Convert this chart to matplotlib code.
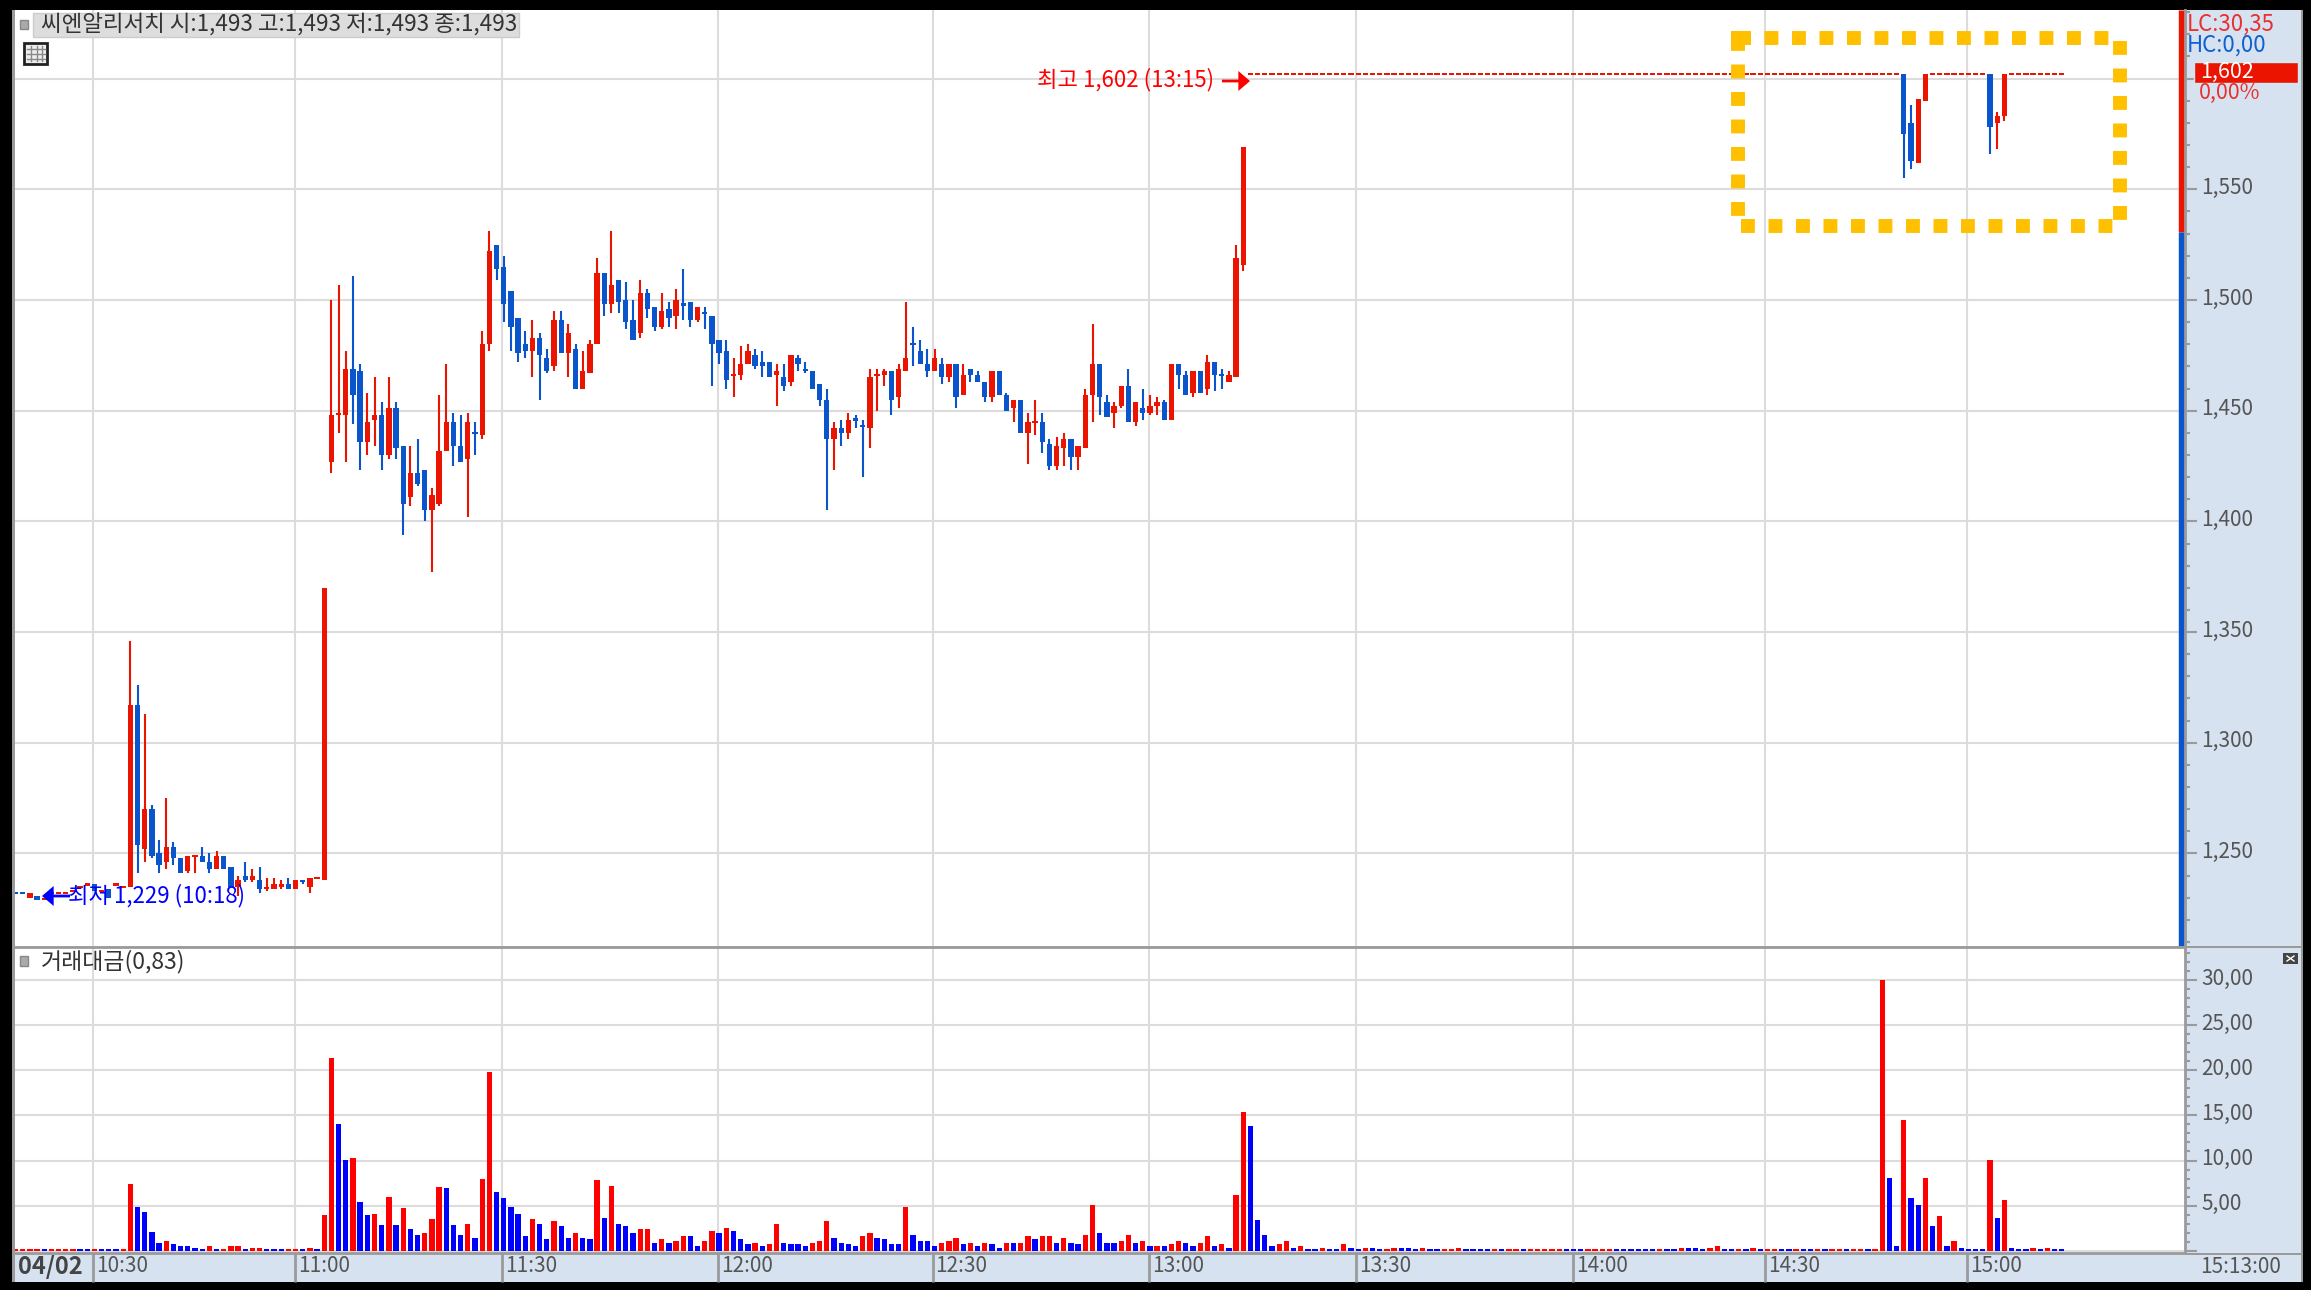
import matplotlib
matplotlib.use('Agg')
import matplotlib.pyplot as plt
from matplotlib.patches import Rectangle
from matplotlib.transforms import ScaledTranslation

plt.rcParams['font.family'] = ['Noto Sans CJK KR', 'DejaVu Sans']

W, H = 2314, 1293

# Свечи (1 мин), индекс = номер свечи
opens = [
    1232, 1232, 1230, 1231, 1229, 1232, 1232, 1232, 1233, 1235,
    1236, 1236, 1233, 1234, 1236, 1235, 1235, 1317, 1252, 1270,
    1250, 1246, 1253, 1248, 1242, 1249, 1249, 1246, 1243, 1249,
    1244, 1235, 1240, 1238, 1238, 1234, 1234, 1235, 1236, 1234,
    1238, 1235, 1239, 1238, 1427, 1448, 1448, 1469, 1468, 1436,
    1446, 1448, 1430, 1451, 1434, 1411, 1422, 1423, 1405, 1408,
    1432, 1445, 1434, 1428, 1440, 1439, 1480, 1525, 1515, 1504,
    1492, 1480, 1477, 1483, 1474, 1470, 1491, 1476, 1478, 1460,
    1467, 1480, 1512, 1498, 1509, 1500, 1491, 1485, 1503, 1497,
    1488, 1496, 1493, 1498, 1499, 1491, 1494, 1493, 1482, 1477,
    1466, 1466, 1471, 1475, 1472, 1472, 1466, 1465, 1463, 1474,
    1469, 1468, 1462, 1455, 1437, 1442, 1440, 1446, 1443, 1442,
    1466, 1466, 1468, 1456, 1468, 1480, 1477, 1471, 1468, 1471,
    1465, 1471, 1457, 1469, 1466, 1463, 1456, 1468, 1457, 1451,
    1455, 1440, 1445, 1445, 1435, 1425, 1433, 1437, 1429, 1433,
    1457, 1471, 1454, 1449, 1452, 1461, 1445, 1451, 1449, 1452,
    1454, 1446, 1471, 1466, 1458, 1468, 1460, 1472, 1466, 1463,
    1465, 1516,
] + [1602] * 91 + [1602, 1580, 1562, 1590] + [1602] * 8 + [1602, 1580, 1583] + [1602] * 8

closes = [
    1232, 1232, 1232, 1229, 1230, 1232, 1232, 1232, 1233, 1235,
    1236, 1233, 1233, 1230, 1236, 1235, 1317, 1254, 1270, 1249,
    1245, 1253, 1248, 1241, 1249, 1249, 1246, 1243, 1249, 1243,
    1235, 1238, 1238, 1240, 1234, 1235, 1236, 1236, 1234, 1238,
    1237, 1239, 1239, 1370, 1448, 1449, 1469, 1457, 1436, 1445,
    1448, 1430, 1451, 1433, 1408, 1422, 1417, 1405, 1412, 1432,
    1445, 1434, 1427, 1445, 1440, 1480, 1522, 1514, 1498, 1488,
    1476, 1477, 1483, 1475, 1468, 1491, 1476, 1485, 1460, 1468,
    1480, 1512, 1498, 1507, 1499, 1490, 1482, 1503, 1496, 1488,
    1495, 1492, 1500, 1498, 1491, 1497, 1494, 1480, 1476, 1464,
    1466, 1471, 1477, 1470, 1470, 1465, 1468, 1461, 1475, 1471,
    1468, 1460, 1455, 1437, 1442, 1440, 1446, 1446, 1443, 1465,
    1466, 1468, 1455, 1469, 1474, 1480, 1471, 1468, 1474, 1465,
    1471, 1456, 1466, 1466, 1463, 1456, 1468, 1457, 1450, 1455,
    1440, 1445, 1445, 1436, 1425, 1434, 1437, 1429, 1434, 1457,
    1471, 1456, 1447, 1452, 1461, 1445, 1454, 1449, 1452, 1454,
    1446, 1471, 1466, 1457, 1468, 1458, 1472, 1466, 1466, 1466,
    1519, 1569,
] + [1602] * 91 + [1575, 1563, 1591, 1602] + [1602] * 8 + [1578, 1583, 1602] + [1602] * 8

highs = [
    1232, 1232, 1232, 1231, 1230, 1232, 1232, 1232, 1233, 1235,
    1236, 1236, 1233, 1234, 1236, 1235, 1346, 1326, 1313, 1272,
    1256, 1275, 1255, 1248, 1249, 1249, 1253, 1250, 1251, 1249,
    1244, 1240, 1246, 1243, 1244, 1239, 1239, 1238, 1239, 1238,
    1238, 1239, 1239, 1370, 1500, 1507, 1477, 1511, 1471, 1458,
    1465, 1454, 1465, 1454, 1434, 1434, 1437, 1423, 1415, 1457,
    1471, 1449, 1448, 1449, 1445, 1486, 1531, 1525, 1520, 1504,
    1492, 1486, 1491, 1485, 1478, 1495, 1495, 1489, 1480, 1477,
    1482, 1519, 1512, 1531, 1509, 1508, 1500, 1509, 1505, 1497,
    1503, 1499, 1505, 1514, 1499, 1497, 1497, 1493, 1482, 1482,
    1474, 1479, 1480, 1478, 1477, 1472, 1471, 1471, 1475, 1475,
    1472, 1468, 1462, 1460, 1445, 1446, 1449, 1448, 1446, 1469,
    1469, 1469, 1468, 1471, 1499, 1488, 1482, 1478, 1478, 1474,
    1471, 1471, 1471, 1469, 1468, 1463, 1468, 1468, 1458, 1455,
    1455, 1449, 1455, 1449, 1437, 1438, 1440, 1437, 1434, 1460,
    1489, 1471, 1457, 1454, 1461, 1469, 1454, 1460, 1457, 1456,
    1455, 1471, 1471, 1468, 1468, 1468, 1475, 1472, 1469, 1468,
    1525, 1569,
] + [1602] * 91 + [1602, 1588, 1591, 1602] + [1602] * 8 + [1602, 1585, 1602] + [1602] * 8

lows = [
    1232, 1232, 1230, 1229, 1229, 1232, 1232, 1232, 1233, 1235,
    1236, 1233, 1233, 1230, 1236, 1235, 1235, 1241, 1246, 1248,
    1241, 1243, 1245, 1241, 1241, 1241, 1246, 1241, 1243, 1243,
    1235, 1231, 1237, 1237, 1232, 1233, 1234, 1234, 1234, 1234,
    1236, 1232, 1239, 1238, 1422, 1440, 1427, 1444, 1423, 1430,
    1434, 1423, 1428, 1428, 1394, 1407, 1416, 1400, 1377, 1407,
    1432, 1425, 1427, 1402, 1430, 1437, 1477, 1509, 1490, 1477,
    1472, 1474, 1465, 1455, 1467, 1468, 1476, 1465, 1460, 1460,
    1467, 1480, 1493, 1494, 1494, 1487, 1482, 1483, 1492, 1486,
    1487, 1488, 1487, 1491, 1488, 1490, 1487, 1461, 1471, 1460,
    1456, 1464, 1471, 1469, 1465, 1465, 1452, 1459, 1461, 1468,
    1467, 1460, 1452, 1405, 1423, 1434, 1437, 1442, 1420, 1433,
    1450, 1461, 1448, 1451, 1468, 1470, 1471, 1465, 1468, 1462,
    1463, 1451, 1457, 1463, 1463, 1454, 1454, 1457, 1450, 1445,
    1440, 1426, 1439, 1431, 1423, 1423, 1425, 1423, 1423, 1433,
    1445, 1448, 1447, 1442, 1451, 1445, 1443, 1446, 1448, 1448,
    1446, 1446, 1460, 1457, 1456, 1458, 1457, 1459, 1460, 1463,
    1465, 1513,
] + [1602] * 91 + [1555, 1559, 1562, 1590] + [1602] * 8 + [1566, 1568, 1581] + [1602] * 8

candle_colors = (
    'bbrbrrrrrr' 'rbrbrrrbrb' 'brbbrrbbrb' 'brbrbrrrbr' 'brrrrrrbbr'
    'rbrbbrbbrr' 'rbbrbrrbbb' 'bbrbbrbrbr' 'rrbrbbbrbb' 'rbrbbrbbbb'
    'rrrbbbrbrb' 'bbbbrbrbbr' 'rrbrrbbbrb' 'rbrbbbrbbr' 'brrbbrrbrr'
    'rbbrrbrbrr' 'brbbrbrbbr' 'rr'
) + 'r' * 91 + 'bbrr' + 'r' * 8 + 'brr' + 'r' * 8

# Торговый оборот
volumes = [
    0.15, 0.15, 0.15, 0.15, 0.15, 0.15, 0.15, 0.15, 0.15, 0.15,
    0.15, 0.15, 0.15, 0.15, 0.15, 0.15, 7.4, 4.9, 4.3, 2.1,
    0.9, 1.1, 0.7, 0.5, 0.5, 0.3, 0.15, 0.5, 0.15, 0.15,
    0.5, 0.5, 0.15, 0.3, 0.3, 0.15, 0.15, 0.15, 0.15, 0.15,
    0.15, 0.3, 0.15, 4.0, 21.4, 14.1, 10.1, 10.3, 5.4, 4.0,
    4.1, 2.9, 6.0, 2.9, 4.7, 2.4, 1.8, 2.0, 3.5, 7.1,
    6.9, 2.9, 1.8, 3.0, 1.4, 8.0, 19.8, 6.5, 5.8, 4.9,
    4.1, 1.6, 3.5, 3.0, 1.3, 3.3, 2.7, 1.4, 2.0, 1.4,
    1.3, 7.8, 3.6, 7.2, 3.0, 2.7, 2.0, 2.4, 2.4, 0.9,
    1.25, 0.9, 1.1, 1.6, 1.6, 0.55, 1.1, 2.2, 2.0, 2.5,
    2.2, 1.25, 0.7, 0.9, 0.55, 0.7, 3.0, 0.9, 0.7, 0.7,
    0.55, 0.9, 1.1, 3.25, 1.4, 0.9, 0.7, 0.55, 1.6, 2.0,
    1.4, 1.25, 0.7, 0.7, 4.9, 1.8, 1.1, 1.1, 0.55, 0.9,
    1.1, 1.4, 0.7, 0.9, 0.55, 0.9, 0.7, 0.35, 0.9, 0.9,
    0.9, 1.6, 1.25, 1.6, 1.6, 0.9, 1.4, 0.9, 0.7, 1.8,
    5.05, 2.0, 0.9, 0.9, 1.1, 1.8, 0.9, 1.1, 0.55, 0.55,
    0.55, 0.7, 1.1, 0.9, 0.55, 0.9, 1.6, 0.55, 0.7, 0.35,
    6.2, 15.4, 13.8, 3.4, 1.8, 0.55, 0.7, 1.1, 0.35, 0.55,
    0.15, 0.15, 0.35, 0.15, 0.15, 0.7, 0.35, 0.15, 0.35, 0.35,
    0.15, 0.15, 0.35, 0.35, 0.35, 0.15, 0.35, 0.15, 0.15, 0.15,
    0.15, 0.35, 0.15, 0.15, 0.15, 0.15, 0.15, 0.15, 0.15, 0.15,
    0.15, 0.15, 0.15, 0.15, 0.15, 0.15, 0.15, 0.15, 0.15, 0.15,
    0.15, 0.15, 0.15, 0.15, 0.15, 0.15, 0.15, 0.15, 0.15, 0.15,
    0.15, 0.15, 0.35, 0.35, 0.35, 0.15, 0.35, 0.55, 0.15, 0.15,
    0.15, 0.15, 0.35, 0.15, 0.15, 0.15, 0.15, 0.15, 0.15, 0.15,
    0.15, 0.15, 0.15, 0.15, 0.15, 0.15, 0.15, 0.15, 0.15, 0.15,
    30.0, 8.1, 0.5, 14.5, 5.8, 5.1, 8.1, 2.7, 3.8, 0.5,
    1.1, 0.3, 0.15, 0.15, 0.15, 10.1, 3.6, 5.6, 0.3, 0.15,
    0.15, 0.3, 0.15, 0.3, 0.15, 0.15,
]

volume_colors = (
    'rrrrbrrrrb' 'brbbbrrbbb' 'brbbbbbrbr' 'rrbrrbbbrr' 'brbrrbbrbb'
    'rbrbrbbrrr' 'bbbrbrrbbb' 'bbrbbrbbrb' 'brbrbbbrrb' 'rbrrbbrrbr'
    'bbbrbrrbbb' 'brrrbbbbrr' 'bbbbrbbbbr' 'rrbrbrbbrb' 'rrbrrbrbbr'
    'rbbbrrbrbr' 'brrbbrrbrb' 'rrbbbbrrbr' 'bbrbbrbbrb' 'brrbbbrbbr'
    'rrbbbbrbrr' 'brrrrrbbbr' 'rrrbbbbbbr' 'bbrbbbrrbb' 'rbrbrrbbrb'
    'brbrrbrrbr' 'rbbrbbrbrb' 'rbbbbrbrbb' 'brbrbb'
)

time_slots = [10.83, 38.93, 67.76, 97.87, 127.73, 157.85, 186.66, 216.87, 243.68, 271.75]
time_labels = ['10:30', '11:00', '11:30', '12:00', '12:30', '13:00', '13:30', '14:00', '14:30', '15:00']

price_ticks = [1250, 1300, 1350, 1400, 1450, 1500, 1550, 1600]
price_labels = ['1,250', '1,300', '1,350', '1,400', '1,450', '1,500', '1,550', '']
volume_ticks = [0, 5, 10, 15, 20, 25, 30]
volume_labels = ['', '5,00', '10,00', '15,00', '20,00', '25,00', '30,00']

RED = '#EA1400'
BLUE = '#0A55CC'
VOL_RED = '#FF0000'
VOL_BLUE = '#0000FF'
GRID = '#DCDCDC'
AXIS = '#9A9A9A'
PANEL = '#D6E2F0'
TEXT = '#555555'
YELLOW = '#FFC000'

# Привязка шкал к пикселям картинки
SLOT_X0 = 15.5
SLOT_W = 7.18
LEFT, RIGHT = 14, 2185


def pixel_axes(fig, x0, y0, x1, y1, **kw):
    return fig.add_axes([x0 / W, 1 - y1 / H, (x1 - x0) / W, (y1 - y0) / H], **kw)


def shift_labels(axis, labels, dx, dy):
    # сдвиг подписей в пикселях
    offset = ScaledTranslation(dx / 100, dy / 100, axis.figure.dpi_scale_trans)
    for label in labels:
        label.set_transform(label.get_transform() + offset)


fig = plt.figure(figsize=(W / 100, H / 100), dpi=100, facecolor='white')

# Фон и рамка
bg = pixel_axes(fig, 0, 0, W, H, zorder=0)
bg.set_xlim(0, W)
bg.set_ylim(H, 0)
bg.axis('off')
bg.add_patch(Rectangle((0, 0), 2311, 1290, fc='black', ec='none'))
bg.add_patch(Rectangle((12, 10), 2290, 1272, fc=PANEL, ec='none'))

xlim = ((LEFT - SLOT_X0) / SLOT_W, (RIGHT - SLOT_X0) / SLOT_W)
slots = list(range(len(opens)))

# Ценовая панель
ax = pixel_axes(fig, LEFT, 10, RIGHT, 946, zorder=1)
ax.set_xlim(*xlim)
ax.set_ylim(1208.2, 1631)
ax.grid(True, color=GRID, lw=1.5)
ax.set_axisbelow(True)

for i in slots:
    color = RED if candle_colors[i] == 'r' else BLUE
    ax.vlines(i, lows[i], highs[i], color=color, lw=1.5, zorder=2)
    body = abs(closes[i] - opens[i])
    ax.bar(i, max(body, 1.0), bottom=min(opens[i], closes[i]) - (0.5 if body == 0 else 0),
           width=0.74, color=color, lw=0, zorder=3)

ax.set_xticks(time_slots)
ax.set_xticklabels([])
ax.tick_params(axis='x', length=0)
ax.set_yticks(price_ticks)
ax.set_yticklabels(price_labels, fontsize=15, color=TEXT)
ax.set_yticks(range(1210, 1631, 10), minor=True)
ax.yaxis.tick_right()
ax.tick_params(axis='y', which='major', length=8.6, width=1.5, color=AXIS, pad=3)
ax.tick_params(axis='y', which='minor', length=3.6, width=1.5, color=AXIS)
shift_labels(ax, ax.get_yticklabels(), 0, 4)
for name, spine in ax.spines.items():
    spine.set_visible(name == 'right')
    spine.set_color(AXIS)
    spine.set_linewidth(2)

# Полоса LC / HC справа
bar_x = (2180.5 - SLOT_X0) / SLOT_W
ax.plot([bar_x, bar_x], [1530.8, 1631], color=RED, lw=3.9, solid_capstyle='butt', zorder=4, clip_on=False)
ax.plot([bar_x, bar_x], [1208.2, 1530.8], color=BLUE, lw=3.9, solid_capstyle='butt', zorder=4, clip_on=False)

# Панель оборота
av = pixel_axes(fig, LEFT, 947, RIGHT, 1253, zorder=1)
av.set_xlim(*xlim)
av.set_ylim(-0.25, 33.66)
av.grid(True, color=GRID, lw=1.5)
av.set_axisbelow(True)
av.bar(slots, volumes, width=0.74, lw=0, zorder=3,
       color=[VOL_RED if c == 'r' else VOL_BLUE for c in volume_colors])
av.set_yticks(volume_ticks)
av.set_yticklabels(volume_labels, fontsize=15, color=TEXT)
av.set_yticks(range(1, 34), minor=True)
av.yaxis.tick_right()
av.tick_params(axis='y', which='major', length=8.6, width=1.5, color=AXIS, pad=3)
av.tick_params(axis='y', which='minor', length=3.6, width=1.5, color=AXIS)
shift_labels(av, av.get_yticklabels(), 0, 4)
av.set_xticks(time_slots)
av.set_xticklabels(time_labels, fontsize=15, color=TEXT, ha='left')
av.tick_params(axis='x', length=21, width=2, color=AXIS, pad=-20)
shift_labels(av, av.get_xticklabels(), 3, -1)
for name, spine in av.spines.items():
    spine.set_visible(name in ('right', 'top', 'bottom'))
    spine.set_color(AXIS)
    spine.set_linewidth(2)

# Верхний слой: подписи, значки, жёлтая рамка
top = pixel_axes(fig, 0, 0, W, H, zorder=5)
top.set_xlim(0, W)
top.set_ylim(H, 0)
top.axis('off')
top.patch.set_alpha(0)

top.add_patch(Rectangle((2185, 1253), 117, 2, fc=AXIS, ec='none'))
top.add_patch(Rectangle((2185, 946), 117, 2, fc=AXIS, ec='none'))
top.add_patch(Rectangle((12, 10), 2.5, 1272, fc=AXIS, ec='none'))
top.add_patch(Rectangle((2301, 10), 2, 1272, fc=AXIS, ec='none'))

top.add_patch(Rectangle((33, 13), 486, 24, fc='#DDDDDD', ec='#CCCCCC', lw=1))
top.text(41, 25, '씨엔알리서치 시:1,493 고:1,493 저:1,493 종:1,493', fontsize=16.2, color='#333333', va='center')
top.add_patch(Rectangle((20, 20), 8, 9, fc='#AAAAAA', ec='#888888', lw=1))

# значок таблицы
top.add_patch(Rectangle((24, 43), 23, 21, fc='#EEEEEE', ec='#222222', lw=2))
for gx in (31, 37, 42):
    top.plot([gx, gx], [46, 61], color='#888888', lw=1)
for gy in (49, 54, 59):
    top.plot([27, 45], [gy, gy], color='#888888', lw=1)

top.add_patch(Rectangle((20, 956), 8, 10, fc='#AAAAAA', ec='#888888', lw=1))
top.text(41, 962, '거래대금(0,83)', fontsize=16.5, color='#333333', va='center')

arrow_style = 'simple,head_length=0.42,head_width=0.72,tail_width=0.1'
top.text(1037, 80, '최고 1,602 (13:15)', fontsize=16, color=VOL_RED, va='center')
top.annotate('', xy=(1250, 81), xytext=(1222, 81),
             arrowprops=dict(arrowstyle=arrow_style, mutation_scale=20, color=VOL_RED, lw=0, shrinkA=0, shrinkB=0))
top.text(68, 896, '최저 1,229 (10:18)', fontsize=16, color=VOL_BLUE, va='center')
top.annotate('', xy=(42, 896), xytext=(70, 896),
             arrowprops=dict(arrowstyle=arrow_style, mutation_scale=20, color=VOL_BLUE, lw=0, shrinkA=0, shrinkB=0))

top.text(2187, 24, 'LC:30,35', fontsize=16, color='#E83030', va='center')
top.text(2187, 45, 'HC:0,00', fontsize=16, color='#1060D0', va='center')
top.add_patch(Rectangle((2193.5, 62), 104.5, 21, fc=RED, ec='#CFE8F5', lw=1))
top.text(2200, 72, '1,602', fontsize=15.5, color='white', va='center')
top.text(2199, 93, '0,00%', fontsize=15.5, color='#E83030', va='center')

top.text(18, 1267, '04/02', fontsize=17, color='#444444', fontweight='bold', va='center')
top.text(2200, 1267, '15:13:00', fontsize=15, color=TEXT, va='center')
top.add_patch(Rectangle((2283, 953), 15, 11, fc='#444444', ec='none'))
top.plot([2287, 2294], [956, 961], color='white', lw=1)
top.plot([2287, 2294], [961, 956], color='white', lw=1)

# Жёлтая пунктирная рамка: каждая сторона своим штрихом
box_style = dict(color=YELLOW, lw=10, linestyle=(0, (1, 0.98)), dash_capstyle='butt')
top.plot([1737, 2110], [38, 38], **box_style)
top.plot([1738, 1738], [37, 217], **box_style)
top.plot([2120, 2120], [41, 221], **box_style)
top.plot([1741, 2113], [226, 226], **box_style)
top.add_patch(Rectangle((1731, 31), 20, 14, fc=YELLOW, ec='none'))

fig.savefig('out.png', dpi=100, facecolor='white')
